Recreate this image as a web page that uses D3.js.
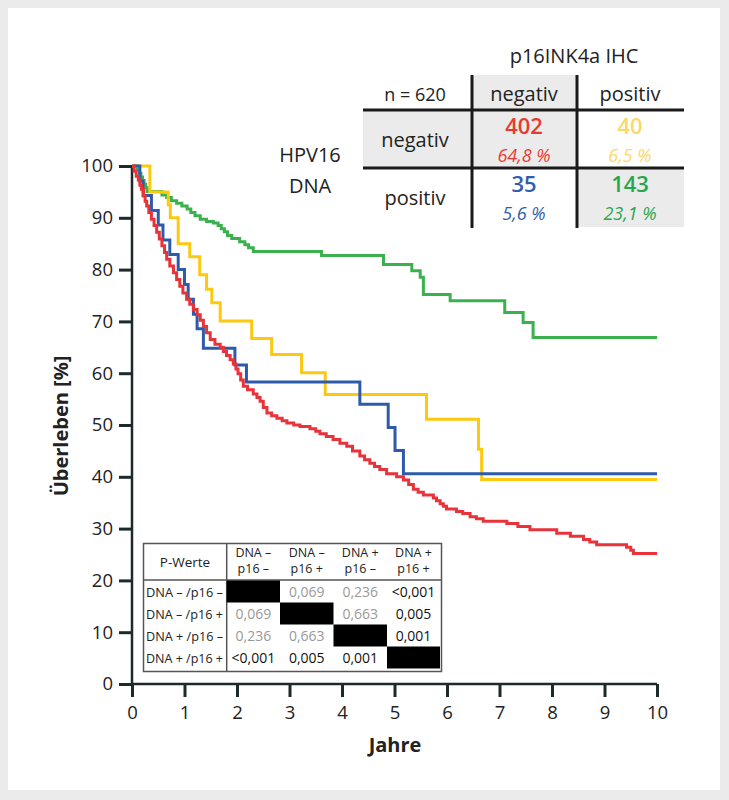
<!DOCTYPE html>
<html>
<head>
<meta charset="utf-8">
<script src="https://cdn.jsdelivr.net/npm/d3@7"></script>
<style>
  body { margin: 0; background: #ebebeb; }
  svg { display: block; font-family: "Open Sans", "Noto Sans", sans-serif; }
</style>
</head>
<body>
<script>
// survival steps [years, percent]
var survDnaNegP16Neg = [[0,100],[0.04,99],[0.08,98],[0.12,97.3],[0.15,96.3],[0.18,95.5],[0.22,94.2],[0.25,93.2],[0.28,92.3],[0.32,91],[0.37,89.7],[0.42,88.5],[0.47,87.2],[0.52,85.9],[0.57,84.6],[0.62,83.3],[0.66,82.0],[0.72,80.7],[0.79,79.4],[0.85,78.1],[0.91,76.8],[0.97,75.5],[1.04,74.3],[1.10,73.3],[1.17,72.3],[1.24,71.3],[1.30,70.2],[1.36,69.0],[1.42,67.8],[1.49,66.5],[1.58,65.6],[1.68,65.0],[1.74,64.2],[1.80,63.4],[1.87,62.6],[1.93,61.8],[1.98,60.8],[2.02,59.9],[2.07,58.7],[2.12,57.5],[2.20,56.8],[2.31,56.0],[2.38,55.3],[2.44,54.6],[2.50,53.4],[2.57,52.3],[2.66,51.8],[2.76,51.3],[2.86,50.8],[2.95,50.4],[3.08,50.0],[3.20,49.7],[3.39,49.3],[3.50,48.8],[3.58,48.3],[3.70,47.8],[3.83,47.2],[3.96,46.5],[4.09,45.9],[4.20,45.0],[4.34,44.0],[4.43,43.3],[4.53,42.6],[4.62,42.0],[4.72,41.4],[4.85,40.6],[5.04,40.0],[5.17,39.4],[5.27,38.5],[5.36,37.6],[5.45,37.0],[5.55,36.5],[5.74,35.9],[5.80,35.4],[5.87,34.8],[5.93,34.3],[5.99,33.8],[6.18,33.3],[6.30,32.9],[6.44,32.3],[6.56,31.9],[6.69,31.4],[7.14,31.0],[7.35,30.4],[7.58,29.8],[8.09,29.1],[8.35,28.5],[8.60,27.9],[8.72,27.4],[8.85,26.9],[9.42,26.4],[9.50,25.8],[9.55,25.2]];
var survDnaNegP16Pos = [[0,100],[0.34,95.0],[0.69,92.5],[0.73,90.0],[0.88,85.0],[1.10,82.5],[1.29,79.0],[1.42,76.2],[1.52,73.6],[1.68,70.1],[2.28,66.7],[2.66,63.6],[3.23,60.1],[3.68,55.9],[5.61,51.1],[6.60,45.3],[6.66,39.5]];
var survDnaPosP16Neg = [[0,100],[0.15,97.1],[0.21,94.3],[0.37,91.4],[0.50,88.6],[0.59,85.7],[0.72,82.9],[0.88,80.0],[1.00,77.1],[1.07,74.3],[1.17,71.4],[1.24,68.6],[1.36,64.8],[1.96,61.6],[2.18,58.3],[4.34,54.0],[4.88,49.5],[5.01,45.1],[5.17,40.6]];
var survDnaPosP16Pos = [[0,100],[0.10,99.3],[0.14,98.6],[0.17,97.9],[0.20,97.2],[0.23,96.5],[0.26,95.8],[0.29,95.1],[0.57,94.4],[0.66,93.9],[0.75,93.3],[0.85,92.8],[0.95,92.3],[1.05,91.7],[1.12,91.0],[1.20,90.4],[1.30,89.7],[1.42,89.3],[1.55,89.0],[1.64,88.5],[1.70,87.9],[1.76,87.3],[1.82,86.6],[1.90,86.0],[2.05,85.4],[2.15,84.8],[2.22,84.2],[2.31,83.5],[3.61,82.7],[4.79,81.0],[5.33,79.8],[5.49,78.5],[5.55,75.2],[6.06,74.0],[7.10,71.7],[7.45,69.8],[7.64,66.9]];

var xTicks = d3.range(0, 11, 1);
var yTicks = d3.range(0, 101, 10);

// 2x2 count table
var dnaStatus = ["negativ", "positiv"];
var p16Status = ["negativ", "positiv"];
var counts = [[402, 40], [35, 143]];
var shares = [["64,8 %", "6,5 %"], ["5,6 %", "23,1 %"]];

// p-value matrix
var pGroups = ["DNA – /p16 –", "DNA – /p16 +", "DNA + /p16 –", "DNA + /p16 +"];
var pHeads = [["DNA –", "p16 –"], ["DNA –", "p16 +"], ["DNA +", "p16 –"], ["DNA +", "p16 +"]];
var pValues = [
  [null, "0,069", "0,236", "<0,001"],
  ["0,069", null, "0,663", "0,005"],
  ["0,236", "0,663", null, "0,001"],
  ["<0,001", "0,005", "0,001", null]
];

var colors = ["#e8333a", "#fdc910", "#2d5bab", "#3bb14e"];
var textColors = [["#ea3a2f", "#fbd86a"], ["#2f5fac", "#27a74d"]];

var w = 729, h = 800;

var svg = d3.select('body').append('svg')
  .attr('width', w)
  .attr('height', h);

svg.append('rect').attr('width', w).attr('height', h).attr('fill', '#ebebeb');
svg.append('rect').attr('x', 8).attr('y', 8).attr('width', 712).attr('height', 782).attr('fill', '#fff');

var x = d3.scaleLinear().domain([0, 10]).range([132, 657]);
var y = d3.scaleLinear().domain([0, 100]).range([684, 166]);

var axisColor = '#1c2a2a';

// y axis
var gy = svg.append('g')
  .attr('transform', 'translate(' + x(0) + ',0)')
  .call(d3.axisLeft(y).tickValues(yTicks).tickSize(13).tickPadding(6).tickFormat(d3.format('d')));
// x axis
var gx = svg.append('g')
  .attr('transform', 'translate(0,' + y(0) + ')')
  .call(d3.axisBottom(x).tickValues(xTicks).tickSize(13).tickPadding(9).tickFormat(d3.format('d')));

[gx, gy].forEach(function(g) {
  g.select('.domain').attr('stroke', axisColor).attr('stroke-width', 2.5);
  g.selectAll('.tick line').attr('stroke', axisColor).attr('stroke-width', 3);
  g.selectAll('.tick text')
    .attr('fill', '#222')
    .style('font-size', '18.5px')
    .style('font-family', '"Open Sans", sans-serif');
});
gy.select('.domain').attr('d', 'M0,' + y(100) + 'V' + y(0));
gx.select('.domain').attr('d', 'M' + x(0) + ',0H' + x(10));

svg.append('text')
  .attr('transform', 'translate(68,426)rotate(-90)')
  .attr('text-anchor', 'middle')
  .style('font-size', '20px').style('font-weight', 700)
  .attr('fill', '#222')
  .text('Überleben [%]');

svg.append('text')
  .attr('x', 395).attr('y', 752)
  .attr('text-anchor', 'middle')
  .style('font-size', '20px').style('font-weight', 700)
  .attr('fill', '#222')
  .text('Jahre');

// curves
var line = d3.line()
  .x(function(d) { return x(d[0]); })
  .y(function(d) { return y(d[1]); })
  .curve(d3.curveStepAfter);

var series = [survDnaPosP16Pos, survDnaNegP16Pos, survDnaPosP16Neg, survDnaNegP16Neg];
var seriesColors = [colors[3], colors[1], colors[2], colors[0]];

series.forEach(function(s, i) {
  var pts = s.concat([[10, s[s.length - 1][1]]]);
  svg.append('path')
    .datum(pts)
    .attr('fill', 'none')
    .attr('stroke', seriesColors[i])
    .attr('stroke-width', 3)
    .attr('d', line);
});

// count table (top right)
var ct = svg.append('g');
var colX = [415, 524, 630];
ct.append('rect').attr('x', 473).attr('y', 75).attr('width', 103).attr('height', 34).attr('fill', '#ebebeb');
ct.append('rect').attr('x', 363).attr('y', 111).attr('width', 213).attr('height', 56).attr('fill', '#ebebeb');
ct.append('rect').attr('x', 578).attr('y', 169).attr('width', 106).attr('height', 58).attr('fill', '#ebebeb');

[[363, 110, 684, 110], [363, 168, 684, 168], [472, 75, 472, 228], [577, 75, 577, 228]].forEach(function(l) {
  ct.append('line')
    .attr('x1', l[0]).attr('y1', l[1]).attr('x2', l[2]).attr('y2', l[3])
    .attr('stroke', '#1a1a1a').attr('stroke-width', 3);
});

ct.append('text').attr('x', 574).attr('y', 63).attr('text-anchor', 'middle')
  .style('font-size', '20px').attr('fill', '#222').text('p16INK4a IHC');
ct.append('text').attr('x', colX[0]).attr('y', 101).attr('text-anchor', 'middle')
  .style('font-size', '18px').attr('fill', '#222').text('n = 620');
p16Status.forEach(function(s, j) {
  ct.append('text').attr('x', colX[j + 1]).attr('y', 101).attr('text-anchor', 'middle')
    .style('font-size', '20px').attr('fill', '#222').text(s);
});
dnaStatus.forEach(function(s, i) {
  var rowY = i === 0 ? 139 : 197;
  ct.append('text').attr('x', colX[0]).attr('y', rowY + 8).attr('text-anchor', 'middle')
    .style('font-size', '20px').attr('fill', '#222').text(s);
  counts[i].forEach(function(c, j) {
    ct.append('text').attr('x', colX[j + 1]).attr('y', rowY - 5).attr('text-anchor', 'middle')
      .style('font-size', '22px').style('font-weight', 600)
      .attr('fill', textColors[i][j]).text(c);
    ct.append('text').attr('x', colX[j + 1]).attr('y', rowY + 23).attr('text-anchor', 'middle')
      .style('font-size', '18px').style('font-style', 'italic').style('font-weight', 500)
      .attr('fill', textColors[i][j]).text(shares[i][j]);
  });
});

svg.append('text').attr('x', 310).attr('y', 162).attr('text-anchor', 'middle')
  .style('font-size', '20px').attr('fill', '#222').text('HPV16');
svg.append('text').attr('x', 310).attr('y', 193).attr('text-anchor', 'middle')
  .style('font-size', '20px').attr('fill', '#222').text('DNA');

// p-value table (bottom left)
var pt = svg.append('g');
var px0 = 143.5, px1 = 441.5, py0 = 543.5, py1 = 671.5;
var colEdges = [226.7, 280, 333.5, 387, 440];
var rowEdges = [580.5, 602.5, 624.5, 646.5, 668.5];

pt.append('rect').attr('x', px0).attr('y', py0).attr('width', px1 - px0).attr('height', py1 - py0)
  .attr('fill', '#fff').attr('stroke', '#555').attr('stroke-width', 1.5);
pt.append('line').attr('x1', px0).attr('x2', px1).attr('y1', 580).attr('y2', 580)
  .attr('stroke', '#555').attr('stroke-width', 1.5);
pt.append('line').attr('x1', colEdges[0]).attr('x2', colEdges[0]).attr('y1', py0).attr('y2', py1)
  .attr('stroke', '#555').attr('stroke-width', 1.5);

pt.append('text').attr('x', 185).attr('y', 567).attr('text-anchor', 'middle')
  .style('font-size', '13.5px').attr('fill', '#222').text('P-Werte');

pHeads.forEach(function(hd, j) {
  var cx = (colEdges[j] + colEdges[j + 1]) / 2;
  hd.forEach(function(t, k) {
    pt.append('text').attr('x', cx).attr('y', 557 + k * 16).attr('text-anchor', 'middle')
      .style('font-size', '12.5px').attr('fill', '#222').text(t);
  });
});

pGroups.forEach(function(g, i) {
  var cy = (rowEdges[i] + rowEdges[i + 1]) / 2;
  pt.append('text').attr('x', 146).attr('y', cy + 5)
    .style('font-size', '13.5px').attr('fill', '#222')
    .attr('textLength', 77).attr('lengthAdjust', 'spacingAndGlyphs')
    .text(g);
  pValues[i].forEach(function(v, j) {
    var cx = (colEdges[j] + colEdges[j + 1]) / 2;
    if (v === null) {
      pt.append('rect').attr('x', colEdges[j]).attr('y', rowEdges[i])
        .attr('width', colEdges[j + 1] - colEdges[j]).attr('height', rowEdges[i + 1] - rowEdges[i])
        .attr('fill', '#000');
    } else {
      var num = parseFloat(v.replace('<', '').replace(',', '.'));
      pt.append('text').attr('x', cx).attr('y', cy + 5).attr('text-anchor', 'middle')
        .style('font-size', '14px')
        .attr('fill', num > 0.05 ? '#999' : '#111').text(v);
    }
  });
});
</script>
</body>
</html>
